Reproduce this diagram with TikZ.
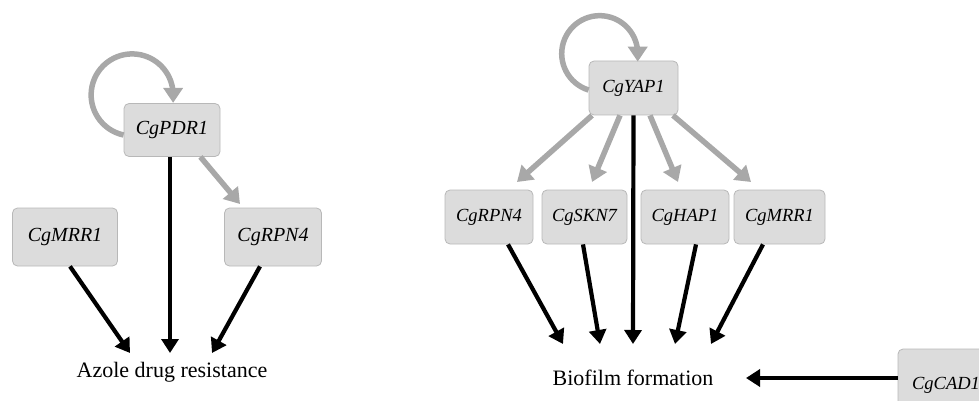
\documentclass[tikz,border=0pt]{standalone}
\usepackage{fontspec}
\setmainfont{Liberation Serif}
\usetikzlibrary{arrows.meta}
\definecolor{boxfill}{HTML}{DCDCDC}
\definecolor{boxline}{HTML}{B8B8B8}
\definecolor{garrow}{HTML}{A8A8A8}
\tikzset{
 gene/.style={draw=boxline, fill=boxfill, rounded corners=5pt, line width=0.8pt, inner sep=0pt, font=\fontsize{20}{24}\selectfont\itshape},
 geneR/.style={gene, minimum width=88pt, minimum height=54pt, font=\fontsize{18.5}{22}\selectfont\itshape},
 grayarrow/.style={draw=garrow, line width=5.5pt, -{Triangle[length=15pt,width=19pt]}},
 blackarrow/.style={draw=black, line width=4.2pt, -{Triangle[length=14pt,width=17pt]}},
 outcome/.style={font=\fontsize{22}{26}\selectfont, inner sep=0pt}
}
\begin{document}
\begin{tikzpicture}[x=1pt,y=1pt]
\useasboundingbox (0,0) rectangle (979,-401);
% left diagram
\node[gene, minimum width=96pt, minimum height=53pt] (pdr) at (172,-130) {CgPDR1};
\node[gene, minimum width=105pt, minimum height=58pt] (mrrA) at (65,-237) {CgMRR1};
\node[gene, minimum width=97pt, minimum height=58pt] (rpnA) at (273,-237) {CgRPN4};
\node[outcome] (azole) at (172,-372) {Azole drug resistance};
\coordinate (tA1) at (130,-353);
\coordinate (tA2) at (170,-353);
\coordinate (tA3) at (212,-353);
\coordinate (tA4) at (240,-204);
\draw[grayarrow] ([yshift=-5pt]pdr.west) arc[start angle=258, end angle=0, radius=41] -- ++(0,-8);
\draw[grayarrow] ([xshift=-20pt]pdr.south east) -- (tA4);
\draw[blackarrow] ([xshift=-2pt]pdr.south) -- (tA2);
\draw[blackarrow] ([xshift=5pt]mrrA.south) -- (tA1);
\draw[blackarrow] ([xshift=-13pt]rpnA.south) -- (tA3);
% right diagram
\node[gene, minimum width=89pt, minimum height=54pt, font=\fontsize{18.5}{22}\selectfont\itshape] (yap) at (633.5,-88) {CgYAP1};
\node[geneR] (rpnB) at (489,-217) {CgRPN4};
\node[geneR, minimum width=85pt] (skn) at (584.5,-217) {CgSKN7};
\node[geneR] (hap) at (685,-217) {CgHAP1};
\node[geneR, minimum width=91pt] (mrrB) at (779.5,-217) {CgMRR1};
\node[outcome] (bio) at (633,-378) {Biofilm formation};
\node[gene, minimum width=96pt, minimum height=72pt, font=\fontsize{18.5}{22}\selectfont\itshape] (cad) at (946,-385) {CgCAD1};
\coordinate (g1) at (517,-182);
\coordinate (g2) at (592,-182);
\coordinate (g3) at (678,-182);
\coordinate (g4) at (751,-182);
\coordinate (b1) at (563,-344);
\coordinate (b2) at (600,-344);
\coordinate (b3) at (633,-344);
\coordinate (b4) at (675,-344);
\coordinate (b5) at (711,-344);
\coordinate (bc) at (746,-378);
\draw[grayarrow] ([yshift=-2pt]yap.west) arc[start angle=253, end angle=0, radius=38] -- ++(0,-8);
\draw[grayarrow] ([xshift=-41.5pt]yap.south) -- (g1);
\draw[grayarrow] ([xshift=-13.5pt]yap.south) -- (g2);
\draw[grayarrow] ([xshift=16.5pt]yap.south) -- (g3);
\draw[grayarrow] ([xshift=39.5pt]yap.south) -- (g4);
\draw[blackarrow] (yap.south) -- (b3);
\draw[blackarrow] ([xshift=19pt]rpnB.south) -- (b1);
\draw[blackarrow] ([xshift=-1.5pt]skn.south) -- (b2);
\draw[blackarrow] ([xshift=11pt]hap.south) -- (b4);
\draw[blackarrow] ([xshift=-16.5pt]mrrB.south) -- (b5);
\draw[blackarrow] ([yshift=7pt]cad.west) -- (bc);
\end{tikzpicture}
\end{document}
